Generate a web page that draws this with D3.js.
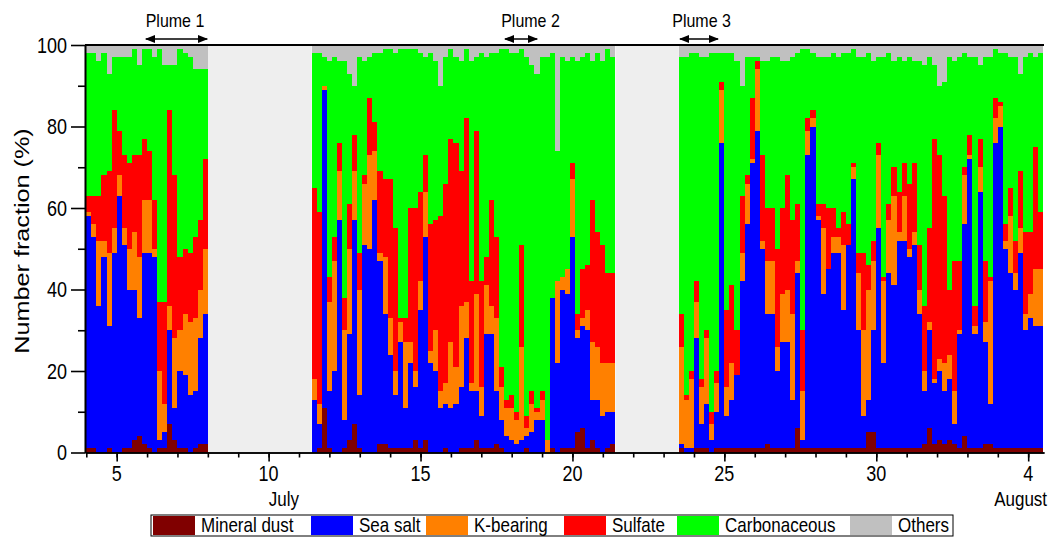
<!DOCTYPE html>
<html>
<head>
<meta charset="utf-8">
<script src="https://cdn.jsdelivr.net/npm/d3@7"></script>
<style>
  body { margin: 0; background: #fff; }
  text { font-family: "Liberation Sans", Arial, sans-serif; fill: #000; }
</style>
</head>
<body>
<div id="chart"></div>
<script>
// sampling periods, day number counted from 1 July (Aug 4 = 35), 4-hourly samples
var segmentStart = [4.0, 11.4167, 23.5];
var segmentCount = [24, 60, 72];
var stepHours = 4;

var keys = ["Mineral dust", "Sea salt", "K-bearing", "Sulfate", "Carbonaceous", "Others"];
var colors = ["#800000", "#0000ff", "#ff8000", "#ff0000", "#00ff00", "#c0c0c0"];

// number fraction (%) per sample, segment by segment
var mineralDust = [
  1,1,0,0,1,0,0,1,1,3, 4,2,1,0,1,1,7,3,1,1, 0,1,2,2,
  0,1,11,1,0,0,1,3,7,1, 0,0,0,2,2,1,1,1,1,1, 3,1,3,0,0,0,1,0,0,1, 1,1,3,1,1,1,2,1,0,0, 0,0,1,0,0,0,0,1,0,1, 1,1,5,6,1,3,1,0,1,2,
  1,0,0,1,1,1,0,1,1,1, 1,1,1,1,1,1,1,2,1,1, 1,1,1,6,1,1,1,1,1,1, 1,1,1,1,1,1,1,5,5,1, 1,1,1,1,1,1,1,1,2,6, 2,3,2,3,2,1,4,1,1,1, 2,2,1,1,1,1,1,1,1,1, 1,1
];
var seaSalt = [
  57,52,36,48,30,49,63,50,39,37, 29,47,48,48,2,4,23,8,19,18, 14,14,26,32,
  13,6,78,14,20,57,7,26,50,13, 51,50,62,45,32,23,13,26,10,21, 13,34,50,22,20,11,11,11,12,15, 27,14,12,8,28,28,13,7,4,3, 2,3,3,5,8,8,0,37,22,39, 38,52,23,25,29,10,12,9,9,8,
  1,1,1,27,6,11,3,9,75,8, 12,18,41,55,70,78,49,32,33,19, 26,26,12,38,2,72,79,56,38,44, 48,48,34,50,66,29,8,8,25,54, 21,43,40,51,51,47,50,33,13,24, 15,17,13,15,5,28,52,71,28,63, 25,10,75,79,49,43,39,48,29,32, 30,30
];
var kBearing = [
  1,3,16,4,18,6,5,4,10,14, 15,13,13,2,17,7,6,17,10,15, 18,18,12,16,
  5,5,1,22,27,12,22,21,12,26, 15,23,12,2,14,9,6,5,16,5, 4,7,11,3,10,4,5,16,9,20, 9,2,24,7,12,7,18,8,7,8, 6,23,2,7,2,5,3,0,20,3, 6,14,2,2,5,14,13,13,12,12,
  24,12,17,9,9,16,4,7,13,7, 9,0,7,10,1,15,2,13,13,6, 12,13,21,3,12,6,2,1,16,0, 4,4,16,0,3,14,21,27,17,18, 20,13,22,2,11,2,3,6,5,2, 1,3,7,6,8,1,12,1,2,6, 5,30,6,5,2,14,4,6,4,6, 14,14
];
var sulfate = [
  4,7,11,16,20,29,11,18,21,19, 25,15,12,12,17,25,48,40,18,16, 17,20,17,22,
  47,47,0,6,6,7,8,11,9,9, 2,14,7,20,19,34,35,1,6,33, 40,22,9,31,27,43,49,50,55,33, 45,25,40,26,7,26,20,5,2,3, 2,25,3,3,1,2,0,0,0,0, 0,4,4,12,11,35,28,29,22,22,
  8,1,2,5,2,2,3,3,2,19, 19,11,14,2,15,2,21,13,13,24, 21,28,23,14,15,3,2,3,6,15, 7,2,8,5,1,5,19,6,5,3, 1,4,7,10,8,16,17,11,16,23, 59,50,41,16,32,17,2,5,5,7, 15,1,5,1,4,7,8,14,20,15, 30,14
];
var carbonaceous = [
  35,35,33,30,24,13,18,24,26,26, 22,22,25,35,62,58,11,27,51,48, 48,41,37,22,
  33,39,7,53,44,20,58,32,12,48, 28,10,17,29,32,32,43,66,66,39, 39,34,24,42,39,32,31,22,21,27, 17,54,18,56,49,36,45,78,86,84, 88,48,88,80,82,82,94,60,32,54, 51,26,62,52,52,34,44,45,55,53,
  63,83,78,56,79,67,88,78,7,63, 57,66,27,29,10,1,23,36,37,47, 36,28,40,37,69,17,14,36,36,37, 38,42,39,42,28,48,48,52,44,21, 54,37,26,33,25,31,25,45,59,42, 18,17,28,57,49,50,28,19,61,18, 50,54,12,12,42,32,45,24,43,44, 22,39
];
var others = [
  2,2,4,2,7,3,3,3,3,1, 5,1,1,3,1,5,5,5,1,2, 3,6,6,6,
  2,2,3,4,3,4,4,7,10,3, 4,3,2,2,1,1,2,1,1,1, 1,2,3,2,4,10,3,1,3,4, 1,4,3,2,3,2,2,1,1,2, 2,1,3,5,7,3,3,2,26,3, 4,3,4,3,2,4,2,4,1,3,
  3,3,2,2,3,3,2,2,2,2, 2,4,10,3,3,3,4,4,3,3, 4,4,3,2,1,1,2,3,3,3, 2,3,2,2,1,3,3,2,4,3, 3,2,4,3,4,3,4,4,5,3, 5,10,9,3,4,3,2,3,3,5, 3,3,1,2,2,3,3,7,3,2, 3,2
];

var xTickDays = [5, 10, 15, 20, 25, 30, 35];
var xTickLabels = ["5", "10", "15", "20", "25", "30", "4"];
var monthLabels = [{ day: 10.5, text: "July" }, { day: 34.75, text: "August" }];
var yTicks = [0, 20, 40, 60, 80, 100];
var yMinorTicks = [10, 30, 50, 70, 90];
var plumes = [
  { name: "Plume 1", from: 5.96, to: 7.98, labelDay: 6.92 },
  { name: "Plume 2", from: 17.78, to: 18.84, labelDay: 18.62 },
  { name: "Plume 3", from: 23.54, to: 24.79, labelDay: 24.25 }
];

var W = 1052, H = 539;
var svg = d3.select("#chart").append("svg")
    .attr("width", W)
    .attr("height", H);

var x = d3.scaleLinear().domain([3.957, 35.52]).range([85, 1044]);
var y = d3.scaleLinear().domain([0, 100]).range([452.5, 45]);
var step = stepHours / 24;

// build rows
var series = [mineralDust, seaSalt, kBearing, sulfate, carbonaceous, others];
var rows = [];
var k = 0;
segmentStart.forEach(function(s, si) {
    for (var i = 0; i < segmentCount[si]; i++) {
        var row = { t: s + i * step };
        keys.forEach(function(key, j) { row[key] = series[j][k]; });
        rows.push(row);
        k++;
    }
});

var color = d3.scaleOrdinal().domain(keys).range(colors);
var stacked = d3.stack().keys(keys)(rows);

// stretched text helper (the figure's lettering is tall and narrow)
function label(g, px, py, str, size, anchor) {
    return g.append("text")
        .attr("transform", "translate(" + px + "," + py + ") scale(1,1.2)")
        .attr("text-anchor", anchor || "middle")
        .style("font-size", size + "px")
        .text(str);
}

// gaps between sampling periods
for (var g = 0; g < segmentStart.length - 1; g++) {
    var gapFrom = segmentStart[g] + segmentCount[g] * step;
    var gapTo = segmentStart[g + 1];
    svg.append("rect")
        .attr("x", x(gapFrom))
        .attr("y", y(100))
        .attr("width", x(gapTo) - x(gapFrom))
        .attr("height", y(0) - y(100))
        .attr("fill", "#eeeeee");
}

// bars
svg.append("g")
    .selectAll("g")
    .data(stacked)
    .enter()
    .append("g")
    .attr("fill", function(d) { return color(d.key); })
    .selectAll("rect")
    .data(function(d) { return d; })
    .enter()
    .append("rect")
    .attr("shape-rendering", "crispEdges")
    .attr("x", function(d) { return x(d.data.t); })
    .attr("width", function(d) { return x(d.data.t + step) - x(d.data.t); })
    .attr("y", function(d) { return y(d[1]); })
    .attr("height", function(d) { return y(d[0]) - y(d[1]); });

// axes
var xMinor = svg.append("g")
    .attr("transform", "translate(0," + y(0) + ")")
    .call(d3.axisBottom(x).tickValues(d3.range(4, 36)).tickSize(5).tickSizeOuter(0).tickFormat(""));
var xMajor = svg.append("g")
    .attr("transform", "translate(0," + y(0) + ")")
    .call(d3.axisBottom(x).tickValues(xTickDays).tickSize(9).tickSizeOuter(0).tickFormat(""));
var yMinor = svg.append("g")
    .attr("transform", "translate(" + x.range()[0] + ",0)")
    .call(d3.axisLeft(y).tickValues(yMinorTicks).tickSize(7).tickSizeOuter(0).tickFormat(""));
var yMajor = svg.append("g")
    .attr("transform", "translate(" + x.range()[0] + ",0)")
    .call(d3.axisLeft(y).tickValues(yTicks).tickSize(14).tickSizeOuter(0).tickFormat(""));
svg.selectAll(".domain, .tick line").attr("stroke", "#000").attr("stroke-width", 1.6);

// top frame line
svg.append("line")
    .attr("x1", x.range()[0]).attr("x2", x.range()[1])
    .attr("y1", y(100)).attr("y2", y(100))
    .attr("stroke", "#000").attr("stroke-width", 2);

// tick labels
var labels = svg.append("g");
yTicks.forEach(function(v) { label(labels, 67, y(v) + 7.5, v, 18, "end"); });
xTickDays.forEach(function(d, i) { label(labels, x(d), 481, xTickLabels[i], 18); });
monthLabels.forEach(function(m) { label(labels, x(m.day), 506, m.text, 17); });

// y axis title
svg.append("text")
    .attr("transform", "translate(29,241) rotate(-90) scale(1.2,1)")
    .attr("text-anchor", "middle")
    .style("font-size", "21px")
    .text("Number fraction (%)");

// plume annotations
var defs = svg.append("defs");
defs.append("marker")
    .attr("id", "arrowhead")
    .attr("viewBox", "0 0 10 10")
    .attr("refX", 9).attr("refY", 5)
    .attr("markerWidth", 7).attr("markerHeight", 7)
    .attr("orient", "auto-start-reverse")
    .append("path")
    .attr("d", "M0,1 L10,5 L0,9 z")
    .attr("fill", "#000");

var ann = svg.append("g");
plumes.forEach(function(p) {
    ann.append("line")
        .attr("x1", x(p.from)).attr("x2", x(p.to))
        .attr("y1", 39).attr("y2", 39)
        .attr("stroke", "#000").attr("stroke-width", 1.5)
        .attr("marker-start", "url(#arrowhead)")
        .attr("marker-end", "url(#arrowhead)");
    label(ann, x(p.labelDay), 27, p.name, 16);
});

// legend
var legendSwatchX = [153, 311, 426, 564, 677, 850];
var legend = svg.append("g");
legend.append("rect")
    .attr("x", 151).attr("y", 515)
    .attr("width", 802).attr("height", 21)
    .attr("fill", "none").attr("stroke", "#000").attr("stroke-width", 1);
keys.forEach(function(key, i) {
    legend.append("rect")
        .attr("x", legendSwatchX[i]).attr("y", 516)
        .attr("width", 42).attr("height", 19)
        .attr("fill", color(key));
    label(legend, legendSwatchX[i] + 48, 532, key, 17, "start");
});
</script>
</body>
</html>
